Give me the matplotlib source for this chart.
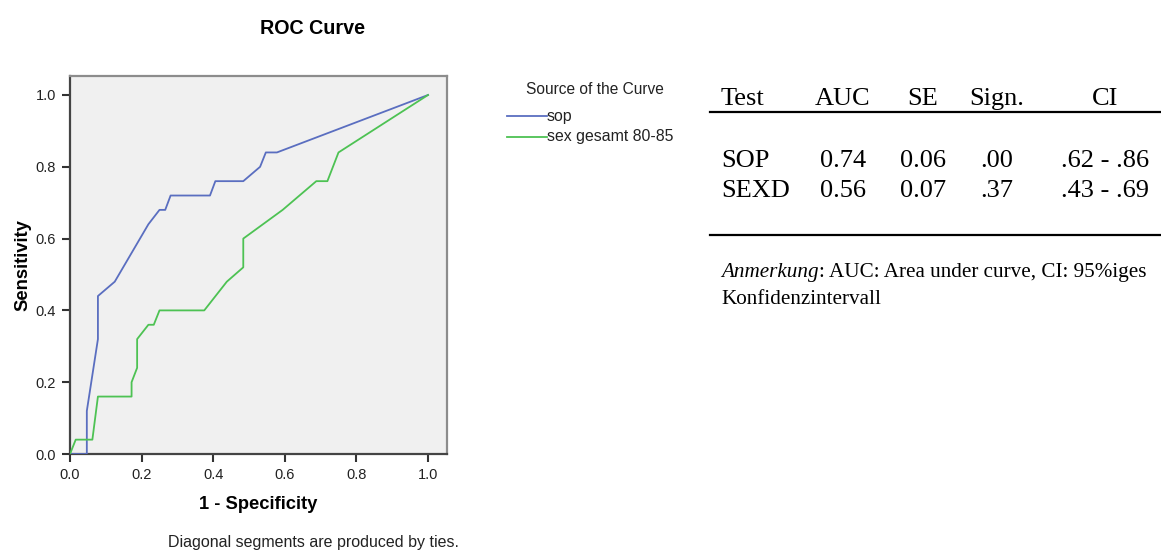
import matplotlib
matplotlib.use("Agg")
import matplotlib.pyplot as plt
from matplotlib.lines import Line2D

# ---- data ----
sop_fpr = [0.0, 0.047, 0.047, 0.078, 0.078, 0.125, 0.219, 0.25, 0.266, 0.281,
           0.391, 0.406, 0.484, 0.531, 0.547, 0.578, 1.0]
sop_tpr = [0.0, 0.0, 0.12, 0.32, 0.44, 0.48, 0.64, 0.68, 0.68, 0.72,
           0.72, 0.76, 0.76, 0.80, 0.84, 0.84, 1.0]
sex_fpr = [0.0, 0.016, 0.0625, 0.078, 0.172, 0.172, 0.1875, 0.1875, 0.219, 0.234,
           0.25, 0.375, 0.438, 0.484, 0.484, 0.594, 0.688, 0.719, 0.75, 1.0]
sex_tpr = [0.0, 0.04, 0.04, 0.16, 0.16, 0.20, 0.24, 0.32, 0.36, 0.36,
           0.40, 0.40, 0.48, 0.52, 0.60, 0.68, 0.76, 0.76, 0.84, 1.0]
series_names = ["sop", "sex gesamt 80-85"]
ticks = [0.0, 0.2, 0.4, 0.6, 0.8, 1.0]

table_header = ["Test", "AUC", "SE", "Sign.", "CI"]
table_rows = [["SOP", "0.74", "0.06", ".00", ".62 - .86"],
              ["SEXD", "0.56", "0.07", ".37", ".43 - .69"]]

W, H = 1161, 551
fig = plt.figure(figsize=(W / 100, H / 100), dpi=100)
fig.patch.set_facecolor("white")

sans = ["Liberation Sans", "DejaVu Sans"]
serif = ["Liberation Serif", "DejaVu Serif"]

ax = fig.add_axes([70 / W, 1 - 454 / H, (447 - 70) / W, (454 - 76) / H])
ax.set_facecolor("#F0F0F0")
c_blue = "#5A6EC0"
c_green = "#4DC253"
ax.plot(sop_fpr, sop_tpr, color=c_blue, lw=1.3, zorder=3)
ax.plot(sex_fpr, sex_tpr, color=c_green, lw=1.3, zorder=3)

xmax = (447 - 70) / 358
ymax = (454 - 76) / 359
ax.set_xlim(0, xmax)
ax.set_ylim(0, ymax)
ax.set_xticks(ticks)
ax.set_yticks(ticks)
ax.set_xticklabels([f"{t:.1f}" for t in ticks], family=sans, fontsize=10.5, color="#222222")
ax.set_yticklabels([f"{t:.1f}" for t in ticks], family=sans, fontsize=10.5, color="#222222")
ax.tick_params(direction="out", length=6, width=1.5, color="#333333", pad=4)
ax.spines["left"].set_color("#444444")
ax.spines["bottom"].set_color("#444444")
ax.spines["left"].set_linewidth(1.6)
ax.spines["bottom"].set_linewidth(1.6)
for s in ("top", "right"):
    ax.spines[s].set_color("#8C8C8C")
    ax.spines[s].set_linewidth(1.6)

ax.set_xlabel("1 - Specificity", family=sans, fontsize=13.2, fontweight="bold", labelpad=10)
ax.set_ylabel("Sensitivity", family=sans, fontsize=13.2, fontweight="bold", labelpad=3)

fig.text(313 / W, 1 - 28 / H, "ROC Curve", family=sans, fontsize=14.2,
         fontweight="bold", ha="center", va="center")
fig.text(313 / W, 1 - 543 / H, "Diagonal segments are produced by ties.", family=sans,
         fontsize=11.5, ha="center", va="center", color="#222222")

# legend
fig.text(595 / W, 1 - 90 / H, "Source of the Curve", family=sans, fontsize=11.2,
         ha="center", va="center", color="#222222")
for i, (name, col) in enumerate(zip(series_names, [c_blue, c_green])):
    y = 1 - (116 + 21 * i) / H
    fig.add_artist(Line2D([507 / W, 547 / W], [y, y], color=col, lw=1.3))
    fig.text(547 / W, y, name, family=sans, fontsize=11.4, ha="left", va="center",
             color="#222222")

# table
col_x = [721, 843, 923, 997, 1105]
col_ha = ["left", "center", "center", "center", "center"]
for x, ha, t in zip(col_x, col_ha, table_header):
    fig.text(x / W, 1 - 99 / H, t, family=serif, fontsize=19, ha=ha, va="center")
for r, row in enumerate(table_rows):
    y = 1 - (161 + 30 * r) / H
    for x, ha, t in zip(col_x, col_ha, row):
        fig.text(x / W, y, t, family=serif, fontsize=19, ha=ha, va="center")
for yy in (112, 235):
    fig.add_artist(Line2D([710 / W, 1.0], [1 - yy / H, 1 - yy / H], color="black", lw=1.6))

t0 = fig.text(721 / W, 1 - 273 / H, "Anmerkung", family=serif, fontsize=15.2,
              style="italic", ha="left", va="center")
fig.canvas.draw()
bb = t0.get_window_extent()
fig.text(bb.x1 / W, 1 - 273 / H, ": AUC: Area under curve, CI: 95%iges", family=serif,
         fontsize=15.2, ha="left", va="center")
fig.text(721 / W, 1 - 299 / H, "Konfidenzintervall", family=serif, fontsize=15.2,
         ha="left", va="center")

fig.savefig("out.png", dpi=100)
